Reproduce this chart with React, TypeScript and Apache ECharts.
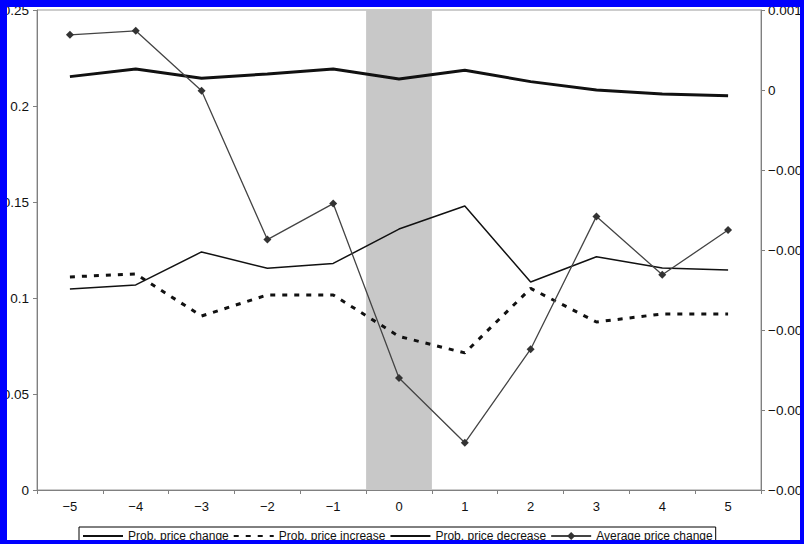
import React, { useEffect, useRef } from "react";
import * as echarts from "echarts";

const categories = ["−5", "−4", "−3", "−2", "−1", "0", "1", "2", "3", "4", "5"];
const probChange = [0.2153, 0.2193, 0.2144, 0.2167, 0.2193, 0.2141, 0.2186, 0.2127, 0.2083, 0.2063, 0.2054];
const probIncrease = [0.111, 0.1125, 0.0906, 0.1016, 0.1016, 0.08, 0.0714, 0.105, 0.0875, 0.0917, 0.0917];
const probDecrease = [0.1047, 0.1068, 0.124, 0.1155, 0.118, 0.1359, 0.1479, 0.1083, 0.1215, 0.1156, 0.1146];
const avgChange = [0.00069, 0.00074, -0.00001, -0.00187, -0.00142, -0.0036, -0.00441, -0.00324, -0.00158, -0.00231, -0.00175];
const eventBand = [null, null, null, null, null, 0.25, null, null, null, null, null];
const seriesNames = ["Prob. price change", "Prob. price increase", "Prob. price decrease", "Average price change"];

const FONT = "'Liberation Sans', Arial, sans-serif";

export default function App() {
  const ref = useRef<HTMLDivElement>(null);
  useEffect(() => {
    if (!ref.current) return;
    const chart = echarts.init(ref.current, undefined, { renderer: "svg" });
    const axisLine = { show: true, lineStyle: { color: "#808080", width: 1 } };
    const axisTick = { show: true, length: 4, lineStyle: { color: "#808080" } };
    const hiddenSymbol = { opacity: 0 };
    chart.setOption({
      animation: false,
      backgroundColor: "#ffffff",
      textStyle: { fontFamily: FONT },
      grid: {
        left: 37,
        right: 43,
        top: 10,
        bottom: 54,
        containLabel: false,
        outerBoundsMode: "none",
        show: true,
        borderColor: "#999",
        borderWidth: 1,
        backgroundColor: "transparent",
      },
      legend: {
        data: [
          { name: seriesNames[0], itemStyle: hiddenSymbol },
          { name: seriesNames[1], itemStyle: hiddenSymbol },
          { name: seriesNames[2], itemStyle: hiddenSymbol },
          { name: seriesNames[3] },
        ],
        left: 79,
        top: 527,
        padding: [3, 3],
        itemGap: 4,
        itemWidth: 40,
        itemHeight: 10,
        borderColor: "#000",
        borderWidth: 1,
        backgroundColor: "#fff",
        textStyle: { fontFamily: FONT, fontSize: 12, color: "#111" },
      },
      xAxis: {
        type: "category",
        data: categories,
        boundaryGap: true,
        axisLine,
        axisTick: { ...axisTick, alignWithLabel: false },
        axisLabel: { color: "#111", fontSize: 13, margin: 10, fontFamily: FONT },
        splitLine: { show: false },
      },
      yAxis: [
        {
          type: "value",
          min: 0,
          max: 0.25,
          interval: 0.05,
          axisLine,
          axisTick,
          axisLabel: { color: "#111", fontSize: 13.5, margin: 8, fontFamily: FONT },
          splitLine: { show: false },
        },
        {
          type: "value",
          min: -0.005,
          max: 0.001,
          interval: 0.001,
          position: "right",
          axisLine,
          axisTick,
          axisLabel: {
            color: "#111",
            fontSize: 13.5,
            margin: 7,
            fontFamily: FONT,
            formatter: (v: number) => {
              const r = Math.round(v * 1000) / 1000;
              if (r === 0) return "0";
              return (r < 0 ? "−" : "") + Math.abs(r).toFixed(3);
            },
          },
          splitLine: { show: false },
        },
      ],
      series: [
        {
          name: "Event window",
          type: "bar",
          data: eventBand,
          yAxisIndex: 0,
          barWidth: "100%",
          itemStyle: { color: "#c8c8c8" },
          silent: true,
          z: 1,
        },
        {
          name: seriesNames[0],
          type: "line",
          data: probChange,
          yAxisIndex: 0,
          symbol: "none",
          lineStyle: { color: "#111", width: 3 },
          itemStyle: { color: "#111" },
          z: 3,
        },
        {
          name: seriesNames[1],
          type: "line",
          data: probIncrease,
          yAxisIndex: 0,
          symbol: "none",
          lineStyle: { color: "#111", width: 3, type: [5, 7] },
          itemStyle: { color: "#111" },
          z: 3,
        },
        {
          name: seriesNames[2],
          type: "line",
          data: probDecrease,
          yAxisIndex: 0,
          symbol: "none",
          lineStyle: { color: "#111", width: 1.5 },
          itemStyle: { color: "#111" },
          z: 3,
        },
        {
          name: seriesNames[3],
          type: "line",
          data: avgChange,
          yAxisIndex: 1,
          symbol: "diamond",
          symbolSize: 8,
          showAllSymbol: true,
          lineStyle: { color: "#444", width: 1.3 },
          itemStyle: { color: "#333" },
          z: 4,
        },
      ],
      graphic: [
        { type: "rect", z: 100, shape: { x: 0, y: 0, width: 7, height: 544 }, style: { fill: "#0000ff" } },
        { type: "rect", z: 100, shape: { x: 0, y: 0, width: 804, height: 7 }, style: { fill: "#0000ff" } },
        { type: "rect", z: 100, shape: { x: 800, y: 0, width: 4, height: 544 }, style: { fill: "#0000ff" } },
        { type: "rect", z: 100, shape: { x: 0, y: 540, width: 804, height: 4 }, style: { fill: "#0000ff" } },
      ],
    });
    return () => chart.dispose();
  }, []);
  return (
    <div
      ref={ref}
      style={{ position: "absolute", left: 0, top: 0, width: 804, height: 544 }}
    />
  );
}
